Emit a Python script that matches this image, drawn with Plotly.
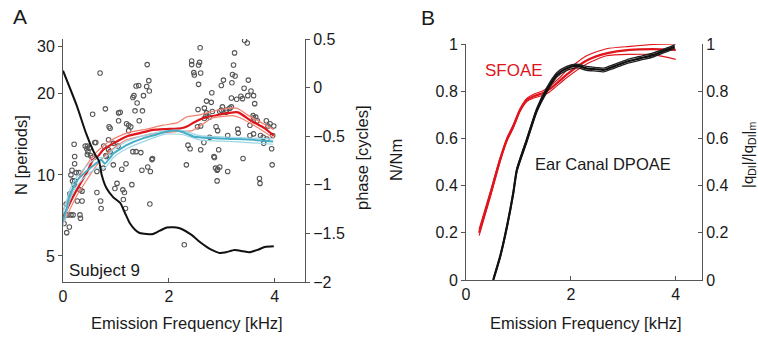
import plotly.graph_objects as go

# ---------------- Panel A data ----------------
scatter_khz = [1.59,0.70,1.62,1.38,1.43,1.58,1.63,1.34,1.32,1.52,1.40,0.80,1.36,1.50,1.08,1.05,0.56,1.44,1.05,1.20,
               1.24,1.28,0.87,0.89,1.24,0.21,0.42,0.46,0.50,0.45,0.60,0.62,0.86,0.95,0.77,1.04,0.47,0.46,0.86,0.89,
               0.81,0.82,1.32,1.38,1.47,0.22,1.69,0.52,0.55,
               3.43,3.48,2.59,3.24,2.43,2.58,2.43,2.56,3.22,2.47,2.48,2.60,3.20,3.25,3.03,3.50,2.56,2.99,3.19,3.42,
               3.55,2.81,3.36,3.49,3.60,3.18,3.28,3.39,2.71,2.80,3.62,3.01,3.15,3.18,2.55,2.67,2.82,2.96,2.99,3.08,
               3.09,2.71,2.70,2.67,2.77,3.59,3.64,3.67,3.60,3.84,3.91,3.87,3.98,2.54,2.60,2.89,2.92,3.30,3.31,3.53,
               3.53,3.11,2.77,3.60,3.73,3.78,3.85,3.79,2.36,2.40,2.66,2.60,2.94,2.85,3.40,3.94,3.96,
               0.22,0.17,0.15,0.25,0.30,0.18,0.22,0.21,0.32,0.36,0.13,0.27,0.36,0.09,0.15,0.19,0.32,0.33,0.04,0.02,
               0.12,0.07,0.64,0.71,0.72,0.76,0.64,0.95,1.19,1.11,1.49,1.60,1.65,1.68,1.02,0.98,1.13,1.16,1.30,1.14,
               1.18,1.64,0.06,
               2.33,2.88,2.92,2.96,2.91,3.11,2.91,2.86,3.71,3.72,3.95,2.29]
scatter_N = [25.7,23.9,22.4,21.4,21.5,21.3,20.5,19.7,19.4,19.7,18.5,17.6,17.3,17.3,17.1,17.0,16.8,15.9,15.9,15.5,
             15.3,15.1,15.1,14.9,14.6,13.0,12.8,12.8,12.6,12.5,13.2,13.2,13.5,13.1,12.8,12.8,12.2,11.9,12.4,12.2,
             11.8,11.7,12.2,12.2,12.1,11.7,11.5,11.8,11.6,
             31.6,30.9,29.7,28.4,26.5,26.2,25.7,25.6,25.6,24.0,23.5,23.9,23.6,23.3,22.5,22.5,21.7,21.5,22.0,21.0,
             20.5,20.2,19.6,19.7,19.7,19.3,19.1,19.2,18.8,18.6,18.4,17.9,17.7,17.9,17.5,17.7,17.2,17.2,17.4,17.1,
             17.4,17.0,16.6,16.2,16.4,16.6,16.4,15.9,16.3,15.9,15.5,15.2,15.2,15.1,15.2,15.1,14.6,14.8,14.3,15.3,
             14.0,14.0,13.8,14.2,14.0,13.8,13.6,13.1,12.9,12.5,13.2,12.4,12.4,11.7,11.5,12.5,14.0,
             11.0,10.4,10.0,10.2,10.2,9.5,9.5,9.2,8.8,8.7,8.5,8.0,8.0,7.1,7.1,7.1,7.1,6.9,7.1,6.6,
             6.4,6.1,8.6,8.0,7.5,10.6,10.3,10.9,11.0,10.5,10.4,10.7,10.3,11.4,9.3,8.9,8.8,8.6,9.2,8.1,
             7.5,7.8,7.8,
             10.9,10.6,10.5,10.7,10.4,10.3,9.5,11.6,9.7,9.3,10.9,5.5]

red_khz = [0.0,0.13,0.26,0.45,0.57,0.64,0.76,0.95,1.20,1.45,1.70,1.96,2.23,2.36,2.48,2.67,2.92,3.27,3.33,3.55,3.81,3.98]
red_N = [6.92,7.87,8.80,10.2,11.4,11.6,12.4,13.1,13.9,14.3,14.7,14.8,14.9,15.2,15.7,16.3,16.7,17.1,17.0,15.9,14.9,14.0]
red_hi_khz = [0.0,0.26,0.45,0.64,0.89,1.20,1.58,1.89,2.15,2.33,2.58,2.96,3.28,3.53,3.84,3.98]
red_hi_N = [7.41,9.42,10.9,12.2,13.4,14.3,14.8,15.3,15.6,16.4,16.7,17.5,17.7,16.5,15.3,14.7]
red_lo_khz = [0.0,0.26,0.45,0.64,0.89,1.20,1.70,2.19,2.44,2.65,2.83,3.21,3.34,3.65,3.98]
red_lo_N = [6.58,8.36,9.58,10.9,12.3,13.5,14.2,14.5,14.6,15.5,16.3,16.6,16.3,15.1,13.7]

cyan_khz = [0.0,0.07,0.13,0.26,0.45,0.64,0.72,0.79,0.89,0.95,1.20,1.52,1.70,1.96,2.15,2.27,2.46,2.77,3.21,3.59,3.97]
cyan_N = [6.74,7.54,8.43,9.50,10.35,11.1,11.4,11.0,11.6,12.0,12.9,13.7,14.0,14.5,14.6,14.4,13.9,13.7,13.6,13.5,13.3]
cyan_band_khz = [0.0,0.13,0.26,0.45,0.64,0.79,0.95,1.20,1.52,1.96,2.27,2.58,3.21,3.97]
cyan_hi_N = [7.17,8.80,9.83,10.8,11.6,11.6,12.4,13.3,14.0,14.6,14.6,14.0,13.8,13.6]
cyan_lo_N = [6.46,8.07,9.10,10.0,10.6,10.6,11.6,12.5,13.3,14.2,14.1,13.5,13.3,13.0]

phase_khz = [0.0,0.26,0.44,0.60,0.68,0.73,0.82,0.95,1.08,1.17,1.26,1.36,1.45,1.58,1.70,1.83,1.96,2.10,2.23,
             2.42,2.61,2.80,2.96,3.08,3.24,3.40,3.52,3.68,3.81,3.98]
phase_cyc = [0.174,-0.186,-0.477,-0.683,-0.755,-0.896,-1.033,-1.129,-1.187,-1.290,-1.393,-1.462,-1.496,-1.506,
             -1.506,-1.472,-1.440,-1.437,-1.452,-1.513,-1.599,-1.668,-1.702,-1.694,-1.671,-1.684,-1.694,-1.668,
             -1.640,-1.633]

left_ticks_A = [5, 10, 20, 30]
right_ticks_A = [-2, -1.5, -1, -0.5, 0, 0.5]
x_ticks = [0, 2, 4]

# ---------------- Panel B data ----------------
sfoae_khz = [0.25,0.46,0.65,0.78,0.90,1.03,1.16,1.28,1.47,1.60,1.79,1.92,2.30,2.68,3.12,3.57,4.0]
sfoae_main = [0.20,0.36,0.51,0.595,0.65,0.72,0.763,0.778,0.792,0.81,0.845,0.87,0.93,0.96,0.975,0.978,0.975]
sfoae_hi = [0.215,0.372,0.518,0.602,0.658,0.726,0.770,0.786,0.802,0.822,0.858,0.888,0.950,0.980,0.990,0.998,1.0]
sfoae_lo = [0.188,0.348,0.500,0.588,0.643,0.713,0.756,0.770,0.783,0.798,0.833,0.857,0.915,0.950,0.956,0.955,0.935]

dpoae_khz = [0.52,0.65,0.78,0.90,0.97,1.16,1.35,1.54,1.73,1.92,2.11,2.30,2.49,2.62,2.81,3.06,3.31,3.57,3.82,3.98]
dpoae = [0.0,0.099,0.226,0.367,0.466,0.593,0.720,0.805,0.869,0.897,0.907,0.897,0.893,0.890,0.904,0.925,0.939,0.953,0.975,0.989]
dpoae_hi = [0.005,0.10,0.23,0.372,0.472,0.60,0.728,0.815,0.878,0.905,0.914,0.905,0.900,0.898,0.912,0.933,0.947,0.962,0.982,0.996]
dpoae_lo = [0.0,0.095,0.22,0.36,0.46,0.585,0.712,0.795,0.86,0.888,0.899,0.889,0.885,0.882,0.896,0.917,0.931,0.945,0.967,0.982]

b_ticks = [0, 0.2, 0.4, 0.6, 0.8, 1]

# ---------------- Figure ----------------
W, H = 758, 339
FONT = "Liberation Sans, Arial, sans-serif"
RED = "#e0141b"
RED_L = "#f2826f"
CYAN = "#46aec6"
CYAN_L = "#9fd6e6"
AX = "#555555"

fig = go.Figure()

fig.add_trace(go.Scatter(x=scatter_khz, y=scatter_N, mode="markers", xaxis="x", yaxis="y",
                         marker=dict(symbol="circle-open", size=4.5, color="#555555", line=dict(width=1.1)),
                         showlegend=False, hoverinfo="skip"))

for xs, ys in [(red_hi_khz, red_hi_N), (red_lo_khz, red_lo_N)]:
    fig.add_trace(go.Scatter(x=xs, y=ys, mode="lines", xaxis="x", yaxis="y",
                             line=dict(color=RED_L, width=1.2, shape="spline", smoothing=0.5),
                             showlegend=False, hoverinfo="skip"))
fig.add_trace(go.Scatter(x=red_khz, y=red_N, mode="lines", xaxis="x", yaxis="y",
                         line=dict(color=RED, width=2.2, shape="spline", smoothing=0.4),
                         showlegend=False, hoverinfo="skip"))
for ys in [cyan_hi_N, cyan_lo_N]:
    fig.add_trace(go.Scatter(x=cyan_band_khz, y=ys, mode="lines", xaxis="x", yaxis="y",
                             line=dict(color=CYAN_L, width=1.2, shape="spline", smoothing=0.5),
                             showlegend=False, hoverinfo="skip"))
fig.add_trace(go.Scatter(x=cyan_khz, y=cyan_N, mode="lines", xaxis="x", yaxis="y",
                         line=dict(color=CYAN, width=2, shape="spline", smoothing=0.4),
                         showlegend=False, hoverinfo="skip"))

fig.add_trace(go.Scatter(x=phase_khz, y=phase_cyc, mode="lines", xaxis="x", yaxis="y2",
                         line=dict(color="#111111", width=2, shape="spline", smoothing=0.6),
                         showlegend=False, hoverinfo="skip"))

# Panel B
for ys in [sfoae_hi, sfoae_lo]:
    fig.add_trace(go.Scatter(x=sfoae_khz, y=ys, mode="lines", xaxis="x2", yaxis="y3",
                             line=dict(color=RED, width=1.1, shape="spline", smoothing=0.6),
                             showlegend=False, hoverinfo="skip"))
fig.add_trace(go.Scatter(x=sfoae_khz, y=sfoae_main, mode="lines", xaxis="x2", yaxis="y3",
                         line=dict(color=RED, width=2.2, shape="spline", smoothing=0.6),
                         showlegend=False, hoverinfo="skip"))
for ys in [dpoae_hi, dpoae_lo]:
    fig.add_trace(go.Scatter(x=dpoae_khz, y=ys, mode="lines", xaxis="x2", yaxis="y4",
                             line=dict(color="#222222", width=1.4, shape="spline", smoothing=0.6),
                             showlegend=False, hoverinfo="skip"))
fig.add_trace(go.Scatter(x=dpoae_khz, y=dpoae, mode="lines", xaxis="x2", yaxis="y4",
                         line=dict(color="#111111", width=2.2, shape="spline", smoothing=0.6),
                         showlegend=False, hoverinfo="skip"))

def px_x(p):
    return p / W

def px_y(p):
    return 1 - p / H

tickfont = dict(family=FONT, size=16, color="#1a1a1a")
common = dict(showgrid=False, zeroline=False, showline=True, linecolor=AX, linewidth=1,
              tickcolor=AX, ticklen=4, tickfont=tickfont, automargin=False)

fig.update_layout(
    width=W, height=H,
    margin=dict(l=0, r=0, t=0, b=0),
    paper_bgcolor="white", plot_bgcolor="white",
    font=dict(family=FONT, size=16, color="#1a1a1a"),
    xaxis=dict(domain=[px_x(63), px_x(305)], range=[0, 4.57], anchor="y",
               tickvals=x_ticks, ticks="inside", **common),
    yaxis=dict(domain=[px_y(282), px_y(39)], type="log", range=[0.602, 1.505], anchor="x",
               tickvals=left_ticks_A, ticks="outside", **common),
    yaxis2=dict(domain=[px_y(282), px_y(39)], range=[-2, 0.5], overlaying="y", side="right", anchor="x",
                tickvals=right_ticks_A, ticks="outside", **common),
    xaxis2=dict(domain=[px_x(466), px_x(702)], range=[0, 4.5], anchor="y3",
                tickvals=x_ticks, ticks="inside", **common),
    yaxis3=dict(domain=[px_y(280), px_y(44)], range=[0, 1], anchor="x2",
                tickvals=b_ticks, ticks="outside", **common),
    yaxis4=dict(domain=[px_y(280), px_y(44)], range=[0, 1], overlaying="y3", side="right", anchor="x2",
                tickvals=b_ticks, ticks="inside", **common),
)

def ann(text, x, y, size=16, color="#1a1a1a", angle=0, xanchor="center", yanchor="middle"):
    fig.add_annotation(text=text, x=px_x(x), y=px_y(y), xref="paper", yref="paper",
                       showarrow=False, textangle=angle, xanchor=xanchor, yanchor=yanchor,
                       font=dict(family=FONT, size=size, color=color))

ann("A", 20, 16, size=21)
ann("B", 428, 18, size=21)
ann("Subject 9", 67, 270, size=17, xanchor="left")
ann("N [periods]", 21, 155, angle=-90, size=16.5)
ann("phase [cycles]", 362, 158, angle=-90, size=16.5)
ann("Emission Frequency [kHz]", 187, 323, size=16.5)
ann("Emission Frequency [kHz]", 586, 323, size=16.5)
ann("N/Nm", 396, 160, angle=-90, size=16.5)
ann("SFOAE", 514, 70, size=17, color=RED)
ann("Ear Canal DPOAE", 603, 164, size=16.5)
ann("|q<sub>DI</sub>|/|q<sub>DI</sub>|<sub>m</sub>", 748, 155, angle=-90, size=15)

fig.write_html("out.html",
               config={"displayModeBar": False},
               post_script="document.body.style.margin='0';document.body.style.padding='0';document.body.style.overflow='hidden';")
